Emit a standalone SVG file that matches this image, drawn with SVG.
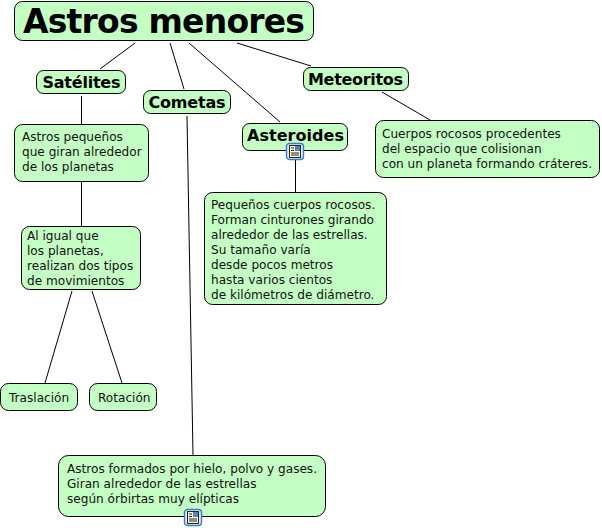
<svg xmlns="http://www.w3.org/2000/svg" width="602" height="528" viewBox="0 0 602 528">
<style>
text{font-family:"DejaVu Sans",Verdana,sans-serif;fill:#000}
.n{fill:#c4ffc4;stroke:#000;stroke-width:1}
.t{font-size:12.1px;fill:#111}
.h{font-size:16px;font-weight:bold}
#connectors line{stroke:#000;stroke-width:1}
</style>
<defs>
<g id="icon"><rect x="0.500" y="0.500" width="17" height="16" rx="3" fill="#dfeeff" stroke="#3a78c8" stroke-width="1.4"/><rect x="3.500" y="2.500" width="11" height="12" fill="#fff8d8" stroke="#222" stroke-width="1"/><rect x="9" y="3" width="5" height="5" fill="#5a7fc0"/><path d="M5 5h3M5 7.500h3M5 10h8M5 12h8" stroke="#222" stroke-width="1"/></g>
</defs>
<g id="connectors">
<line x1="135" y1="43" x2="100" y2="69"/>
<line x1="170" y1="43" x2="184" y2="89"/>
<line x1="189" y1="43" x2="280" y2="122"/>
<line x1="237" y1="43" x2="311" y2="66"/>
<line x1="81.500" y1="96" x2="81.500" y2="124"/>
<line x1="81.500" y1="182" x2="81.500" y2="226"/>
<line x1="72" y1="291" x2="45" y2="383"/>
<line x1="92" y1="291" x2="122" y2="383"/>
<line x1="187" y1="116" x2="193" y2="455"/>
<line x1="295.500" y1="158" x2="295.500" y2="192"/>
<line x1="382" y1="92" x2="430" y2="120"/>
</g>
<g id="astros"><rect class="n" x="14.500" y="1.500" width="299" height="39" rx="8"/><text x="23" y="33" font-size="33" font-weight="bold" textLength="282">Astros menores</text></g>
<g id="satelites"><rect class="n" x="36.500" y="70.500" width="89" height="23" rx="7"/><text class="h" x="42.500" y="88" textLength="78">Satélites</text></g>
<g id="cometas"><rect class="n" x="143.500" y="90.500" width="87" height="23" rx="7"/><text class="h" x="148.500" y="108" textLength="77">Cometas</text></g>
<g id="asteroides"><rect class="n" x="242.500" y="123.500" width="105" height="27" rx="7"/><text class="h" x="247" y="141" textLength="97">Asteroides</text><use href="#icon" x="286" y="143"/></g>
<g id="meteoritos"><rect class="n" x="303.500" y="67.500" width="105" height="23" rx="7"/><text class="h" x="308" y="85" textLength="95">Meteoritos</text></g>
<g id="pequenos"><rect class="n" x="14.500" y="124.500" width="134" height="57" rx="8"/><text class="t" x="22" y="141">Astros pequeños</text><text class="t" x="22" y="156">que giran alrededor</text><text class="t" x="22" y="171">de los planetas</text></g>
<g id="movimientos"><rect class="n" x="21.500" y="226.500" width="119" height="63" rx="8"/><text class="t" x="27" y="240">Al igual que</text><text class="t" x="27" y="255">los planetas,</text><text class="t" x="27" y="270">realizan dos tipos</text><text class="t" x="27" y="285">de movimientos</text></g>
<g id="traslacion"><rect class="n" x="0.500" y="383.500" width="77" height="27" rx="8"/><text class="t" x="9" y="402">Traslación</text></g>
<g id="rotacion"><rect class="n" x="89.500" y="383.500" width="67" height="27" rx="8"/><text class="t" x="98" y="402">Rotación</text></g>
<g id="cuerpos"><rect class="n" x="375.500" y="120.500" width="224" height="57" rx="8"/><text class="t" x="382" y="138">Cuerpos rocosos procedentes</text><text class="t" x="382" y="153">del espacio que colisionan</text><text class="t" x="382" y="168">con un planeta formando cráteres.</text></g>
<g id="rocosos"><rect class="n" x="204.500" y="192.500" width="182" height="112" rx="8"/><text class="t" x="211" y="209">Pequeños cuerpos rocosos.</text><text class="t" x="211" y="224">Forman cinturones girando</text><text class="t" x="211" y="239">alrededor de las estrellas.</text><text class="t" x="211" y="254">Su tamaño varía</text><text class="t" x="211" y="269">desde pocos metros</text><text class="t" x="211" y="284">hasta varios cientos</text><text class="t" x="211" y="299">de kilómetros de diámetro.</text></g>
<g id="hielo"><rect class="n" x="58.500" y="455.500" width="267" height="61" rx="10"/><text class="t" x="67" y="473">Astros formados por hielo, polvo y gases.</text><text class="t" x="67" y="488">Giran alrededor de las estrellas</text><text class="t" x="67" y="503">según órbirtas muy elípticas</text><use href="#icon" x="184" y="509"/></g>
</svg>
